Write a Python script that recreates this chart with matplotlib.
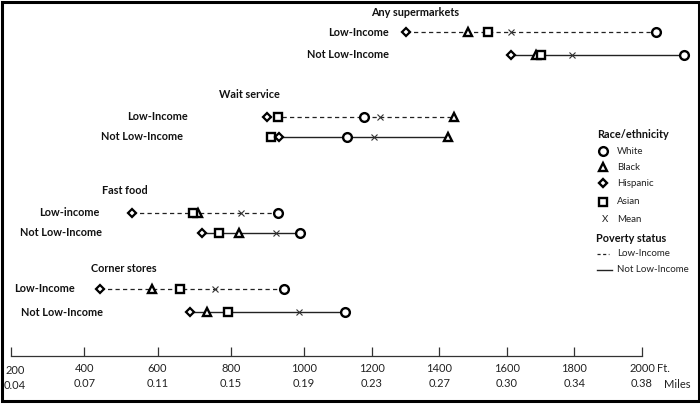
import numpy as np
import matplotlib
matplotlib.use("Agg")
import matplotlib.pyplot as plt
from matplotlib.patches import Rectangle
from matplotlib.transforms import ScaledTranslation

plt.rcParams['font.family'] = ['Lato', 'DejaVu Sans']

# Distance (ft) to nearest food outlet, by outlet type, race/ethnicity and poverty status
categories = ["Any supermarkets", "Wait service", "Fast food", "Corner stores"]
low_labels = ["Low-Income", "Low-Income", "Low-income", "Low-Income"]
not_labels = ["Not Low-Income", "Not Low-Income", "Not Low-Income", "Not Low-Income"]

white_low = [2041, 1178, 929, 945]
white_not = [2124, 1127, 989, 1121]
black_low = [1485, 1444, 711, 585]
black_not = [1686, 1426, 823, 735]
hispanic_low = [1302, 899, 530, 443]
hispanic_not = [1612, 932, 722, 689]
asian_low = [1544, 929, 697, 661]
asian_not = [1701, 910, 768, 792]
mean_low = [1612, 1225, 828, 757]
mean_not = [1793, 1207, 924, 986]

ft_ticks = [200, 400, 600, 800, 1000, 1200, 1400, 1600, 1800, 2000]
mile_labels = ["0.04", "0.07", "0.11", "0.15", "0.19", "0.23", "0.27", "0.30", "0.34", "0.38"]

# layout (pixels from top of the figure)
title_y = [12, 95, 191, 268]
title_x = [371, 219, 102, 91]
row_y = [(32, 55), (117, 137), (213, 233), (289, 312)]
label_right = [(389, 389), (188, 183), (100, 102), (75, 103)]

BOLD = 7.8
LEG = 7.0


# the hand drawn axis has wider spacing below 1000 ft than above
def fwd(x):
    x = np.asarray(x, dtype=float)
    return np.where(x <= 1000, (x - 200) * 0.36625, 293 + (x - 1000) * 0.338)


def inv(p):
    p = np.asarray(p, dtype=float)
    return np.where(p <= 293, 200 + p / 0.36625, 1000 + (p - 293) / 0.338)


fig = plt.figure(figsize=(7, 4.04), dpi=100)
ov = fig.add_axes([0, 0, 1, 1])
ov.set_xlim(0, 700)
ov.set_ylim(404, 0)
ov.axis('off')

ax = fig.add_axes([11 / 700, 48 / 404, 631 / 700, 356 / 404])
ax.set_xscale('function', functions=(fwd, inv))
ax.set_xlim(200, 2000)
ax.set_ylim(356, 0)
ax.patch.set_visible(False)
for s in ['left', 'right', 'top']:
    ax.spines[s].set_visible(False)
ax.spines['bottom'].set_color('#333333')
ax.spines['bottom'].set_linewidth(0.9)
ax.set_yticks([])
ax.set_xticks(ft_ticks, labels=[f"{f}\n{m}" for f, m in zip(ft_ticks, mile_labels)])
ax.tick_params(axis='x', direction='in', length=6.5, width=0.9, color='#333333',
               pad=5, labelsize=8, labelcolor='#222222')
ax.minorticks_off()
for lab in ax.get_xticklabels():
    lab.set_linespacing(1.45)
first = ax.get_xticklabels()[0]
first.set_transform(first.get_transform() + ScaledTranslation(4 / 100, -2 / 100, fig.dpi_scale_trans))

mk = dict(mfc='white', mec='black', ls='none', clip_on=False, zorder=3)
series = [
    (white_low, white_not, dict(marker='o', ms=6.3, mew=1.7)),
    (black_low, black_not, dict(marker='^', ms=6.3, mew=1.7)),
    (asian_low, asian_not, dict(marker='s', ms=6.0, mew=1.7)),
    (hispanic_low, hispanic_not, dict(marker='D', ms=4.3, mew=1.6)),
]

for i, cat in enumerate(categories):
    yl, yn = row_y[i]
    lows = [white_low[i], black_low[i], hispanic_low[i], asian_low[i]]
    nots = [white_not[i], black_not[i], hispanic_not[i], asian_not[i]]
    ax.plot([min(lows), max(lows)], [yl, yl], ls=(0, (3.4, 2.6)), lw=0.9,
            color='#222222', clip_on=False, zorder=2)
    ax.plot([min(nots), max(nots)], [yn, yn], ls='-', lw=1.0,
            color='#222222', clip_on=False, zorder=2)
    for lo, no, st in series:
        ax.plot([lo[i]], [yl], **mk, **st)
        ax.plot([no[i]], [yn], **mk, **st)
    ax.plot([mean_low[i]], [yl], marker='x', ms=5, mew=0.8, color='#333333',
            ls='none', clip_on=False, zorder=4)
    ax.plot([mean_not[i]], [yn], marker='x', ms=5, mew=0.8, color='#333333',
            ls='none', clip_on=False, zorder=4)

    ov.text(title_x[i], title_y[i], cat, ha='left', va='center', fontsize=BOLD,
            fontweight='bold', color='#111111')
    ov.text(label_right[i][0], yl, low_labels[i], ha='right', va='center',
            fontsize=BOLD, fontweight='bold', color='#111111')
    ov.text(label_right[i][1], yn, not_labels[i], ha='right', va='center',
            fontsize=BOLD, fontweight='bold', color='#111111')

ov.text(657, 368, "Ft.", ha='left', va='center', fontsize=8, color='#222222')
ov.text(664, 384, "Miles", ha='left', va='center', fontsize=8, color='#222222')

# legend
ov.text(597, 134, "Race/ethnicity", ha='left', va='center', fontsize=BOLD,
        fontweight='bold', color='#111111')
leg_items = [("White", 'o', 6.3), ("Black", '^', 6.3), ("Hispanic", 'D', 4.3),
             ("Asian", 's', 6.0)]
leg_y = [151, 167, 183, 202]
for (name, m, ms), yy in zip(leg_items, leg_y):
    ov.plot([603], [yy], marker=m, ms=ms, mew=1.7, mfc='white', mec='black', ls='none')
    ov.text(617, yy, name, ha='left', va='center', fontsize=LEG, color='#222222')
ov.text(605, 220, "X", ha='center', va='center', fontsize=LEG, color='#222222')
ov.text(617, 220, "Mean", ha='left', va='center', fontsize=LEG, color='#222222')
ov.text(596, 238, "Poverty status", ha='left', va='center', fontsize=BOLD,
        fontweight='bold', color='#111111')
ov.plot([597, 609], [254, 254], ls=(0, (2.5, 2)), lw=0.9, color='#222222')
ov.text(617, 254, "Low-Income", ha='left', va='center', fontsize=LEG, color='#222222')
ov.plot([597, 612], [270, 270], ls='-', lw=1.0, color='#222222')
ov.text(617, 270, "Not Low-Income", ha='left', va='center', fontsize=LEG, color='#222222')

ov.add_patch(Rectangle((1.5, 1.5), 697, 399.5, fill=False, lw=2.2, ec='black',
                       clip_on=False))

fig.savefig("out.png", dpi=100)
